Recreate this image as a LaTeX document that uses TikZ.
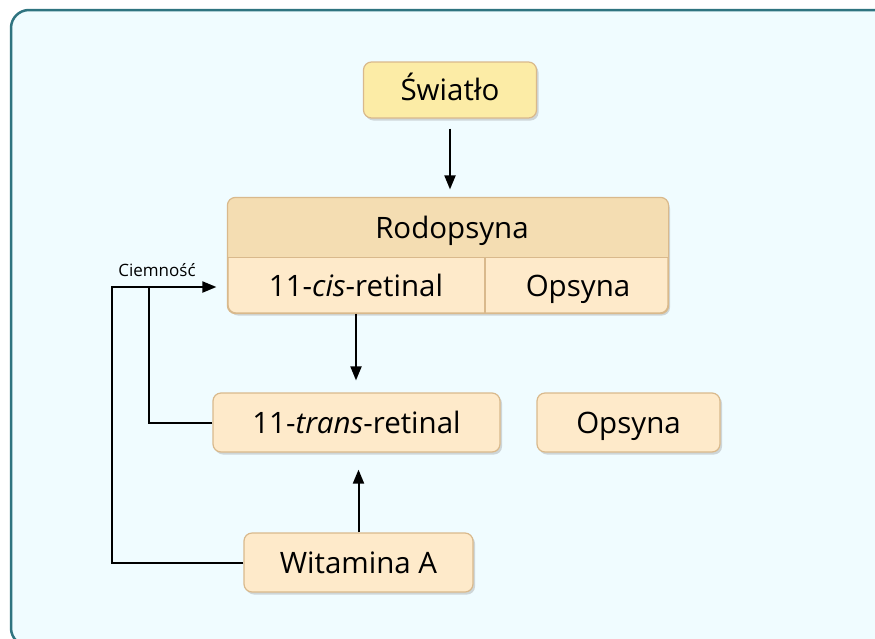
\documentclass[tikz,border=0pt]{standalone}
\usepackage{fontspec}
\setmainfont{Open Sans}
\usetikzlibrary{arrows.meta, shadows, positioning}

\definecolor{framebg}{HTML}{F0FCFF}
\definecolor{frameline}{HTML}{2F7480}
\definecolor{lightfill}{HTML}{FCECA6}
\definecolor{boxfill}{HTML}{FEEACA}
\definecolor{headfill}{HTML}{F4DDB2}
\definecolor{boxline}{HTML}{D9B98C}

\tikzset{
    txt/.style={font=\fontsize{29.5}{34}\selectfont, text height=27pt, text depth=6pt},
    box/.style={txt, draw=boxline, fill=boxfill, rounded corners=8pt, line width=1.2pt,
        drop shadow={opacity=0.3, shadow xshift=2pt, shadow yshift=-2.5pt},
        inner sep=0pt},
    conn/.style={line width=2pt, -{Triangle[length=14pt, width=11pt]}},
    line/.style={line width=2pt},
}

\begin{document}
\begin{tikzpicture}[x=1pt, y=-1pt]
            \useasboundingbox (0,0) rectangle (875,638);
            \draw[frameline, fill=framebg, line width=2.5pt, rounded corners=18pt] (11,10) rectangle (895,646);

            \node[box, fill=lightfill, minimum width=173pt, minimum height=56pt] (swiatlo) at (450,90) {Światło};

            % rodopsyna as one box with a header and two cells
            \node[box, minimum width=440pt, minimum height=115pt] (rodbox) at (448,255.5) {};
            \begin{scope}
                \clip[rounded corners=8pt] (rodbox.north west) rectangle (rodbox.south east);
                \fill[headfill] (rodbox.north west) rectangle ([yshift=-60pt]rodbox.north east);
            \end{scope}
            \draw[boxline, line width=1.2pt] ([yshift=-60pt]rodbox.north west) -- ([yshift=-60pt]rodbox.north east);
            \draw[boxline, line width=1.2pt] (485,258) -- (rodbox.south -| 485,0);
            \draw[boxline, line width=1.2pt, rounded corners=8pt] (rodbox.north west) rectangle (rodbox.south east);
            \node[txt] (rodopsyna) at (452,228) {Rodopsyna};
            \node[txt] (cis) at (356,286) {11-\textit{cis}-retinal};
            \node[txt] (opsyna) at (578,286) {Opsyna};

            \node[box, minimum width=287pt, minimum height=59pt] (trans) at (356.5,422.5) {11-\textit{trans}-retinal};
            \node[box, minimum width=183pt, minimum height=59pt] (opsynafree) at (628.5,422.5) {Opsyna};
            \node[box, minimum width=229pt, minimum height=59pt] (witA) at (358.5,562.5) {Witamina A};

            \coordinate (dark) at (112,287);
            \coordinate (join) at (149,287);
            \node[font=\fontsize{17}{20}\selectfont] (ciemnosc) at (157,270) {Ciemność};

            \draw[conn, shorten <=10pt, shorten >=8pt] (swiatlo.south) -- (swiatlo.south |- rodbox.north);
            \draw[conn, shorten >=12pt] (cis.south |- rodbox.south) -- (cis.south |- trans.north);
            \draw[conn, shorten >=17pt] (witA.north) -- (witA.north |- trans.south);
            \draw[conn, shorten >=11pt] (witA.west) -| (dark) -- (dark -| rodbox.west);
            \draw[line] (trans.west) -| (join);
        \end{tikzpicture}
\end{document}
